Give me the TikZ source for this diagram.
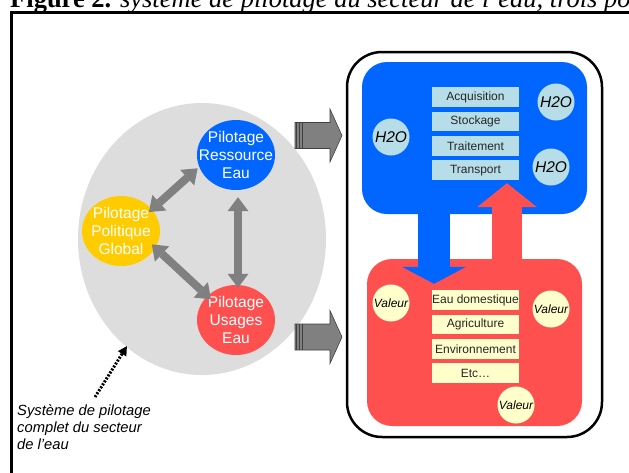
\documentclass[tikz,border=0pt]{standalone}
\usepackage{fontspec}
\setmainfont{Liberation Serif}
\setsansfont{Liberation Sans}
\usetikzlibrary{arrows.meta,positioning,shapes.geometric}

\definecolor{resblue}{RGB}{0,102,255}
\definecolor{usared}{RGB}{255,80,80}
\definecolor{polgold}{RGB}{255,204,0}
\definecolor{sysgray}{RGB}{221,221,221}
\definecolor{arrowgray}{RGB}{128,128,128}
\definecolor{h2ocyan}{RGB}{183,222,232}
\definecolor{valcream}{RGB}{255,255,204}

\begin{document}
\begin{tikzpicture}[
      x=1pt, y=-1pt,
      pilot/.style={
         ellipse,
         inner sep=0pt,
         minimum width=78pt,
         minimum height=70pt},
      pilottext/.style={
         text=white,
         align=center,
         inner sep=0pt,
         font=\sffamily\fontsize{15.5}{18.3}\selectfont},
      task/.style={
         rectangle,
         inner sep=0pt,
         minimum width=87pt,
         minimum height=19.5pt,
         text=black!85,
         font=\sffamily\fontsize{12}{14}\selectfont},
      drop/.style={
         circle,
         inner sep=0pt,
         minimum size=37pt,
         font=\sffamily\itshape\fontsize{15.5}{18}\selectfont},
      gain/.style={
         circle,
         fill=valcream,
         inner sep=0pt,
         minimum size=37pt,
         font=\sffamily\itshape\fontsize{12}{14}\selectfont},
      linkarrow/.style={
         line width=8pt, draw=arrowgray,
         {Triangle[length=14pt,width=21pt,line width=0pt]}-{Triangle[length=14pt,width=21pt,line width=0pt]}},
      node distance=4.5pt
      ]
      \useasboundingbox (0,0) rectangle (629,472);
      \clip (0,0) rectangle (629,472);

      % caption and frame
      \node[anchor=base west, inner sep=0pt, font=\fontsize{26.5}{30}\selectfont] (caption) at (10,7.5)
         {\textbf{Figure 2.} \textit{système de pilotage du secteur de l’eau, trois pô}};
      \draw[line width=3pt] (11.5,480) -- (11.5,12.5) -- (640,12.5);

      % left part: pilotage system
      \node[ellipse, fill=sysgray, minimum width=248pt, minimum height=272pt] (sys) at (202,239) {};
      \node[pilot, fill=resblue, label={[pilottext]center:Pilotage\\Ressource\\Eau}] (res) at (236,155) {};
      \node[pilot, fill=polgold, label={[pilottext]center:Pilotage\\Politique\\Global}] (pol) at (121,231) {};
      \node[pilot, fill=usared, label={[pilottext]center:Pilotage\\Usages\\Eau}] (usa) at (236,320) {};

      \draw[linkarrow, shorten <=-4pt, shorten >=2pt] (pol.35) -- (res.198);
      \draw[linkarrow, shorten <=-5pt, shorten >=-5pt] (pol.-26) -- (usa.140);
      \draw[linkarrow, shorten <=7pt, shorten >=-3pt] ([xshift=2pt]res.south) -- ([xshift=2pt]usa.north);

      \node[anchor=north west, inner sep=0pt, align=left,
            font=\sffamily\itshape\fontsize{14.75}{17.3}\selectfont] (note) at (17,404)
         {Système de pilotage\\complet du secteur\\de l’eau};
      \draw[line width=3pt, dash pattern=on 2pt off 1.5pt,
            -{Triangle[length=9pt,width=10pt,line width=0pt]}, shorten >=-1pt]
         ([xshift=11pt,yshift=7pt]note.north) -- (sys.235);

      % block arrows towards the chain
      \foreach \yy in {135.5,337}{
         \filldraw[fill=arrowgray, draw=black!75, line width=0.6pt]
            (295,\yy) ++(0,-13) -- ++(35,0) -- ++(0,-13.5) -- ++(12,26.5)
            -- ++(-12,26.5) -- ++(0,-13.5) -- ++(-35,0) -- cycle;
         \foreach \xx in {296.5,299.5,302.5}
            \draw[black!75, line width=1pt] (\xx,\yy-13) -- (\xx,\yy+13);
      }

      % right part: water chain
      \node[draw, line width=2.5pt, rounded corners=35pt,
            minimum width=255pt, minimum height=385pt] (chain) at (474.5,244.5) {};
      \node[fill=resblue, rounded corners=25pt,
            minimum width=225pt, minimum height=152pt] (eau) at (474.5,138) {};
      \node[fill=usared, rounded corners=25pt,
            minimum width=215pt, minimum height=167pt] (val) at (474.5,342.5) {};

      \node[task, fill=h2ocyan] (acq) at (475.5,97) {Acquisition};
      \node[task, fill=h2ocyan, below=of acq] (sto) {Stockage};
      \node[task, fill=h2ocyan, below=of sto] (tra) {Traitement};
      \node[task, fill=h2ocyan, below=of tra] (trp) {Transport};

      \node[task, fill=valcream] (dom) at (475.5,300) {Eau domestique};
      \node[task, fill=valcream, below=of dom] (agr) {Agriculture};
      \node[task, fill=valcream, below=of agr] (env) {Environnement};
      \node[task, fill=valcream, below=of env] (etc) {Etc…};

      \foreach \i/\x/\y in {1/391/137, 2/556/102, 3/551/167}
         \node[drop, fill=h2ocyan] (h\i) at (\x,\y) {H2O};
      \foreach \i/\x/\y in {1/391/303, 2/551/309, 3/516/405}
         \node[gain] (v\i) at (\x,\y) {Valeur};

      % exchanges between resource and uses
      \draw[line width=32pt, resblue, -{Triangle[length=17pt,width=64pt,line width=0pt]}]
         ([xshift=-40.5pt,yshift=8pt]eau.south) -- ([xshift=-40.5pt,yshift=-25pt]val.north);
      \draw[line width=30pt, usared, -{Triangle[length=24pt,width=60pt,line width=0pt]}]
         ([xshift=32.5pt,yshift=-6pt]val.north) -- ([xshift=32.5pt,yshift=31pt]eau.south);
    \end{tikzpicture}
\end{document}
